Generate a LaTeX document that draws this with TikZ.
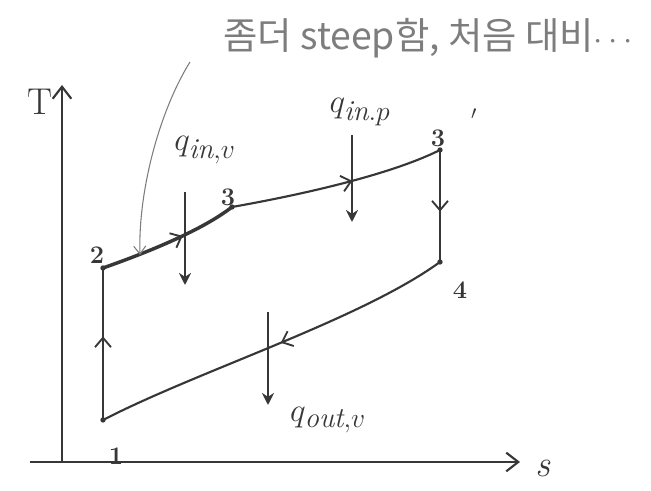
\documentclass[tikz,border=0pt]{standalone}
\usepackage{fontspec}
\newfontfamily\kr{Noto Sans CJK KR}
\usetikzlibrary{arrows.meta,decorations.markings}
\definecolor{ink}{RGB}{55,55,55}
\definecolor{pencil}{RGB}{125,125,125}
\begin{document}
\begin{tikzpicture}[x=0.75pt,y=-0.75pt,
  curve/.style={draw=ink,line width=1.6pt},
  axis/.style={draw=ink,line width=1.6pt,-{Straight Barb[length=9pt,width=14pt]}},
  heat/.style={draw=ink,line width=1.6pt,-{Stealth[length=9pt,width=9pt]}},
  midarrow/.style={postaction={decorate},decoration={markings,mark=at position #1 with {\arrow[ink,line width=1.4pt]{Straight Barb[length=7pt,width=12pt]}}}},
  pt/.style={circle,fill=ink,inner sep=0pt,minimum size=4pt},
  lbl/.style={text=ink,font=\fontsize{19}{19}\selectfont\bfseries},
  qlbl/.style={text=ink,font=\fontsize{31}{31}\selectfont},
  every node/.style={inner sep=1pt}]
\useasboundingbox (0,0) rectangle (651,491);
% axes
\coordinate (o) at (62,462);
\coordinate (tend) at (62,85);
\coordinate (sstart) at (30,462);
\coordinate (send) at (520,462);
\draw[axis] (o) -- (tend);
\draw[axis] (sstart) -- (send);
\node[text=ink,font=\fontsize{28}{28}\selectfont] (T) at (40,102) {T};
\node[text=ink,font=\fontsize{28}{28}\selectfont\itshape] (S) at (543,468) {s};
% state points
\node[pt] (p1) at (103,420) {};
\node[pt] (p2) at (103,268) {};
\node[pt] (p3) at (232,207) {};
\node[pt] (p3p) at (440,150) {};
\node[pt] (p4) at (440,262) {};
\node[lbl] (l1) at (116,456) {1};
\node[lbl] (l2) at (97,255) {2};
\node[lbl] (l3) at (228,197) {3};
\node[lbl] (l3p) at (438,138) {3};
\node[lbl] (l3pp) at (474,118) {$'$};
\node[lbl] (l4) at (460,290) {4};
% cycle
\draw[curve,midarrow=0.55] (p1.center) -- (p2.center);
\draw[curve,line width=2.6pt,midarrow=0.6] (p2.center) .. controls (140,255) and (200,232) .. (p3.center);
\draw[curve,midarrow=0.57] (p3.center) .. controls (300,195) and (390,175) .. (p3p.center);
\draw[curve,midarrow=0.55] (p3p.center) -- (p4.center);
\draw[curve,midarrow=0.48] (p4.center) .. controls (360,320) and (200,370) .. (p1.center);
% heat arrows
\coordinate (qa1) at (185,192);
\coordinate (qa2) at (185,285);
\coordinate (qb1) at (352,135);
\coordinate (qb2) at (352,222);
\coordinate (qc1) at (268,312);
\coordinate (qc2) at (268,405);
\draw[heat] (qa1) -- (qa2);
\draw[heat] (qb1) -- (qb2);
\draw[heat] (qc1) -- (qc2);
\node[qlbl] (qinv) at (205,150) {$q_{\mathit{in},v}$};
\node[qlbl] (qinp) at (360,112) {$q_{\mathit{in}.p}$};
\node[qlbl] (qout) at (328,420) {$q_{\mathit{out},v}$};
% pencil annotation
\node[text=pencil,font=\kr\fontsize{28}{28}\selectfont] (note) at (428,38) {좀더 steep함, 처음 대비$\cdots$};
\coordinate (ann1) at (190,62);
\coordinate (ann2) at (140,255);
\draw[pencil,line width=0.8pt,-{Straight Barb[length=6pt,width=9pt]}] (ann1) .. controls (160,110) and (138,190) .. (ann2);
\end{tikzpicture}
\end{document}
